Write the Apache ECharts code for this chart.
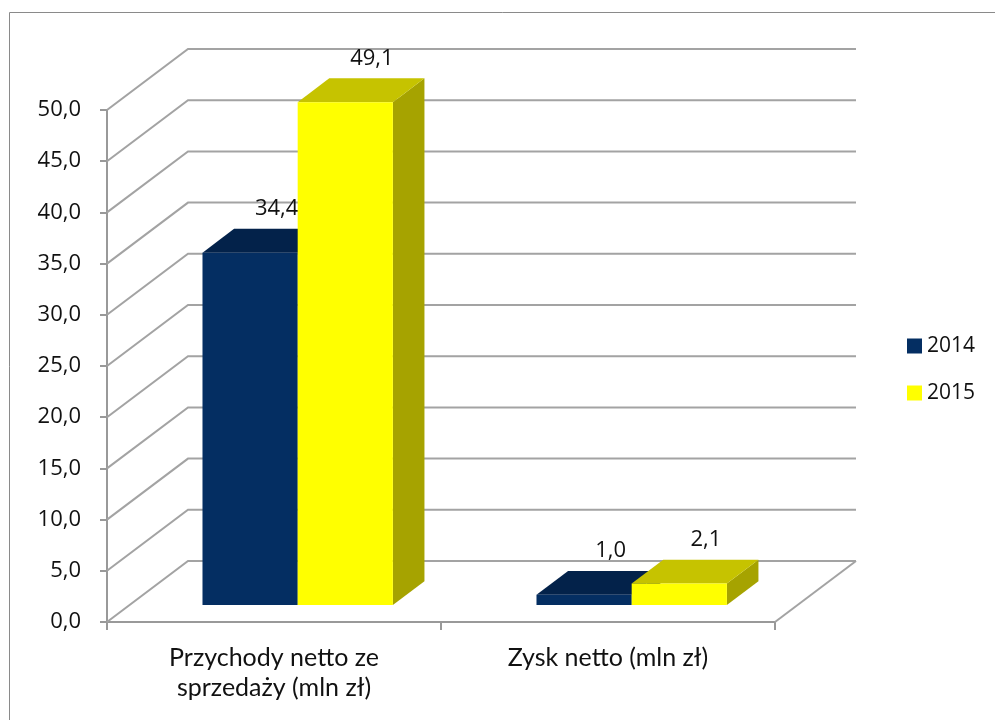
<!DOCTYPE html>
<html>
<head>
<meta charset="utf-8">
<script src="https://cdn.jsdelivr.net/npm/echarts@6/dist/echarts.min.js"></script>
<style>
html,body{margin:0;padding:0;background:#fff;}
#chart{width:995px;height:720px;}
</style>
</head>
<body>
<div id="chart"></div>
<script>
// ---- data ----
const categories = ['Przychody netto ze\nsprzedaży (mln zł)', 'Zysk netto (mln zł)'];
const seriesNames = ['2014', '2015'];
const values2014 = [34.4, 1.0];
const values2015 = [49.1, 2.1];
const yTicks = [0, 5, 10, 15, 20, 25, 30, 35, 40, 45, 50];

// ---- style ----
const DX = 81, DY = -61;           // full floor depth projection
const F1 = 0.28, F2 = 0.67;        // bar front / back depth fractions
const BAR_FRAC = 0.285;            // bar width as fraction of category band
const palette = [
  {front: '#042e62', top: '#03224a', side: '#021a3a'},
  {front: '#ffff00', top: '#c6c300', side: '#a6a300'}
];
const GRID_COLOR = '#a3a3a3';
const FONT = 'Open Sans';
const CAT_FONT = 'Lato';

function fmt(v) { return v.toFixed(1).replace('.', ','); }

function P(x, y, f) { return [x + f * DX, y + f * DY]; }

function barRender(si) {
  return function (params, api) {
    const ci = api.value(0), v = api.value(1);
    const p0 = api.coord([ci, 0]);
    const pv = api.coord([ci, v]);
    const band = api.size([1, 0])[0];
    const bw = band * BAR_FRAC;
    const x0 = p0[0] - bw + si * bw + 1;
    const yv = pv[1], y0 = p0[1];
    const c = palette[si];
    const side = [P(x0 + bw, yv, F1), P(x0 + bw, yv, F2), P(x0 + bw, y0, F2), P(x0 + bw, y0, F1)];
    const top = [P(x0, yv, F1), P(x0 + bw, yv, F1), P(x0 + bw, yv, F2), P(x0, yv, F2)];
    const f = P(x0, yv, F1);
    const fb = P(x0 + bw, y0, F1);
    const lab = P(x0 + bw / 2, yv, F2);
    return {
      type: 'group',
      children: [
        {type: 'polygon', shape: {points: side}, style: {fill: c.side}},
        {type: 'polygon', shape: {points: top}, style: {fill: c.top}},
        {type: 'rect', shape: {x: f[0], y: f[1], width: fb[0] - f[0], height: fb[1] - f[1]}, style: {fill: c.front}},
        {type: 'text', x: lab[0] - 5, y: lab[1] - 20,
          style: {text: fmt(v), fill: '#111', font: '22px "' + FONT + '"', align: 'center', verticalAlign: 'middle'}}
      ]
    };
  };
}

function wallRender(params, api) {
  const v = api.value(1);
  const y = api.coord([0, v])[1];
  const cs = params.coordSys;
  const gx = cs.x, gr = cs.x + cs.width;
  const children = [{
    type: 'polyline',
    shape: {points: [[gx, y], [gx + DX, y + DY], [gr + DX, y + DY]]},
    style: {stroke: GRID_COLOR, lineWidth: 2, fill: null}
  }];
  if (v === 0) {
    children.push({
      type: 'line',
      shape: {x1: gr, y1: y, x2: gr + DX, y2: y + DY},
      style: {stroke: GRID_COLOR, lineWidth: 2}
    });
  }
  return {type: 'group', children: children};
}

const chart = echarts.init(document.getElementById('chart'), null, {renderer: 'canvas'});
chart.setOption({
  animation: false,
  backgroundColor: '#fff',
  graphic: [{
    type: 'rect', shape: {x: 9.5, y: 12.5, width: 1000, height: 800},
    style: {fill: null, stroke: '#8a8a8a', lineWidth: 1}, z: -10
  }],
  grid: {left: 107, top: 110, width: 668, height: 512},
  legend: {
    data: seriesNames, orient: 'vertical', left: 907, top: 334, padding: 0,
    itemWidth: 15, itemHeight: 15, itemGap: 23, icon: 'rect',
    textStyle: {fontFamily: FONT, fontSize: 21, color: '#111', lineHeight: 24}
  },
  xAxis: {
    type: 'category', data: categories,
    axisLine: {lineStyle: {color: '#999', width: 2}},
    axisTick: {show: true, length: 8, lineStyle: {color: '#999', width: 2}},
    axisLabel: {fontFamily: CAT_FONT, fontSize: 25, color: '#111', lineHeight: 30, margin: 21}
  },
  yAxis: {
    type: 'value', min: 0, max: 50, interval: 5,
    axisLine: {show: true, lineStyle: {color: '#999', width: 2}},
    axisTick: {show: true, length: 7, lineStyle: {color: '#999', width: 2}},
    splitLine: {show: false},
    axisLabel: {fontFamily: FONT, fontSize: 22, color: '#111', margin: 26, formatter: fmt}
  },
  series: [
    {type: 'custom', name: 'walls', renderItem: wallRender, z: 1, silent: true,
      data: yTicks.map(v => [0, v])},
    {type: 'custom', name: seriesNames[0], renderItem: barRender(0), z: 3,
      itemStyle: {color: palette[0].front},
      data: values2014.map((v, i) => [i, v])},
    {type: 'custom', name: seriesNames[1], renderItem: barRender(1), z: 4,
      itemStyle: {color: palette[1].front},
      data: values2015.map((v, i) => [i, v])}
  ]
});
</script>
</body>
</html>
